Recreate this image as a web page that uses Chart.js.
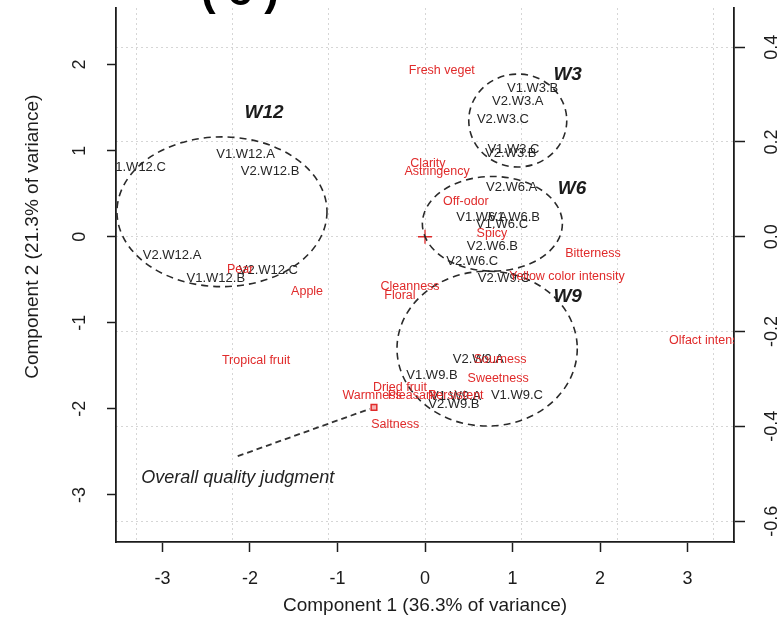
<!DOCTYPE html>
<html lang="en">
<head>
<meta charset="UTF-8">
<title>PCA biplot - wine samples and sensory attributes</title>
<script src="https://cdn.jsdelivr.net/npm/chart.js@4.4.1/dist/chart.umd.min.js"></script>
<style>
  html, body { margin: 0; padding: 0; background: #fff; }
  #wrap { width: 780px; height: 620px; position: relative; }
</style>
</head>
<body>
<div id="wrap"><canvas id="biplot"></canvas></div>
<script>
// sample scores (component 1 / component 2)
const sampleNames = ['V1.W12.C', 'V1.W12.A', 'V2.W12.B', 'V2.W12.A', 'V1.W12.B', 'V2.W12.C',
                     'V1.W3.B', 'V2.W3.A', 'V2.W3.C', 'V1.W3.C', 'V2.W3.B',
                     'V2.W6.A', 'V1.W6.A', 'V1.W6.B', 'V1.W6.C', 'V2.W6.B', 'V2.W6.C',
                     'V2.W9.C', 'V2.W9.A', 'V1.W9.B', 'V1.W9.A', 'V2.W9.B', 'V1.W9.C'];
const sampleX = [-3.30, -2.05, -1.77, -2.89, -2.39, -1.79,
                 1.23, 1.06, 0.89, 1.01, 0.98,
                 0.99, 0.65, 1.02, 0.88, 0.77, 0.54,
                 0.90, 0.61, 0.08, 0.35, 0.33, 1.05];
const sampleY = [0.81, 0.96, 0.76, -0.22, -0.49, -0.39,
                 1.72, 1.57, 1.36, 1.02, 0.97,
                 0.57, 0.23, 0.22, 0.14, -0.11, -0.29,
                 -0.49, -1.43, -1.61, -1.85, -1.95, -1.84];

// sensory attribute loadings (top / right axes)
const attrNames = ['Fresh veget', 'Clarity', 'Astringency', 'Off-odor', 'Spicy', 'Bitterness',
                   'Yellow color intensity', 'Cleanness', 'Floral', 'Apple', 'Pear', 'Tropical fruit',
                   'Olfact intensity', 'Sourness', 'Sweetness', 'Dried fruit', 'Warmness',
                   'Pleasant', 'Persistent', 'Saltness'];
const attrX = [0.035, 0.006, 0.025, 0.085, 0.139, 0.349,
               0.295, -0.031, -0.052, -0.245, -0.384, -0.351,
               0.592, 0.156, 0.152, -0.052, -0.110,
               -0.027, 0.064, -0.062];
const attrY = [0.351, 0.154, 0.137, 0.075, 0.006, -0.035,
               -0.085, -0.106, -0.125, -0.116, -0.069, -0.262,
               -0.220, -0.260, -0.299, -0.318, -0.336,
               -0.336, -0.336, -0.397];

// wine groups: ellipse centre and radii in score units
const groupNames = ['W12', 'W3', 'W6', 'W9'];
const groupX = [-2.32, 1.06, 0.77, 0.71];
const groupY = [0.29, 1.35, 0.15, -1.30];
const groupRx = [1.20, 0.56, 0.80, 1.03];
const groupRy = [0.87, 0.54, 0.55, 0.90];
const groupLabelX = [-1.84, 1.63, 1.68, 1.63];
const groupLabelY = [1.44, 1.88, 0.56, -0.70];

// overall quality judgment: pointer line (scores) and marker (loading)
const oqjLineX = [-2.14, -0.63];
const oqjLineY = [-2.55, -2.00];
const oqjMarkX = [-0.106];
const oqjMarkY = [-0.360];
const oqjTextAt = [-2.14, -2.80];

const xTicks = [-3, -2, -1, 0, 1, 2, 3];
const yTicks = [-3, -2, -1, 0, 1, 2];
const x2Ticks = [-0.6, -0.4, -0.2, 0, 0.2, 0.4, 0.6];
const y2Ticks = [-0.6, -0.4, -0.2, 0, 0.2, 0.4];

const RED = '#e02b2b';
const INK = '#1c1c1c';
const FONT = '"Liberation Sans", Arial, sans-serif';

const toPts = (xs, ys) => xs.map((v, i) => ({ x: v, y: ys[i] }));
const setTicks = list => scale => { scale.ticks = list.map(v => ({ value: v })); };

const textPlugin = {
    id: 'biplotText',
    afterDatasetsDraw(chart) {
        const { ctx, chartArea: a, scales: { x, y, x2, y2 } } = chart;
        ctx.save();
        ctx.beginPath();
        ctx.rect(a.left, a.top, a.right - a.left, a.bottom - a.top);
        ctx.clip();

        // dashed group ellipses
        ctx.strokeStyle = '#2a2a2a';
        ctx.lineWidth = 1.6;
        ctx.setLineDash([7, 5]);
        groupX.forEach((gx, i) => {
            const cx = x.getPixelForValue(gx), cy = y.getPixelForValue(groupY[i]);
            const rx = Math.abs(x.getPixelForValue(gx + groupRx[i]) - cx);
            const ry = Math.abs(y.getPixelForValue(groupY[i] + groupRy[i]) - cy);
            ctx.beginPath();
            ctx.ellipse(cx, cy, rx, ry, 0, 0, Math.PI * 2);
            ctx.stroke();
        });
        ctx.setLineDash([]);

        ctx.textAlign = 'center';
        ctx.textBaseline = 'middle';

        // sample labels
        ctx.fillStyle = '#262626';
        ctx.font = '13px ' + FONT;
        sampleNames.forEach((n, i) => {
            ctx.fillText(n, x.getPixelForValue(sampleX[i]), y.getPixelForValue(sampleY[i]));
        });

        // attribute labels
        ctx.fillStyle = RED;
        ctx.font = '12.5px ' + FONT;
        attrNames.forEach((n, i) => {
            ctx.fillText(n, x2.getPixelForValue(attrX[i]), y2.getPixelForValue(attrY[i]));
        });

        // group names
        ctx.fillStyle = INK;
        ctx.font = 'italic bold 19px ' + FONT;
        groupNames.forEach((n, i) => {
            ctx.fillText(n, x.getPixelForValue(groupLabelX[i]), y.getPixelForValue(groupLabelY[i]));
        });

        ctx.font = 'italic 18px ' + FONT;
        ctx.fillStyle = '#222';
        ctx.fillText('Overall quality judgment', x.getPixelForValue(oqjTextAt[0]), y.getPixelForValue(oqjTextAt[1]));
        ctx.restore();
    },
    afterDraw(chart) {
        const { ctx, chartArea: a, scales: { x, y, y2 } } = chart;
        ctx.save();
        ctx.fillStyle = INK;
        ctx.textAlign = 'center';
        ctx.textBaseline = 'middle';
        ctx.font = '18px ' + FONT;
        x.ticks.forEach(t => ctx.fillText(String(t.value), x.getPixelForValue(t.value), a.bottom + 37));
        y.ticks.forEach(t => {
            ctx.save();
            ctx.translate(a.left - 36, y.getPixelForValue(t.value));
            ctx.rotate(-Math.PI / 2);
            ctx.fillText(String(t.value), 0, 0);
            ctx.restore();
        });
        y2.ticks.forEach(t => {
            ctx.save();
            ctx.translate(a.right + 38, y2.getPixelForValue(t.value));
            ctx.rotate(-Math.PI / 2);
            ctx.fillText(t.value.toFixed(1), 0, 0);
            ctx.restore();
        });

        // axis titles
        ctx.font = '19px ' + FONT;
        ctx.fillText('Component 1 (36.3% of variance)', (a.left + a.right) / 2, a.bottom + 64);
        ctx.save();
        ctx.translate(a.left - 83, y.getPixelForValue(0));
        ctx.rotate(-Math.PI / 2);
        ctx.fillText('Component 2 (21.3% of variance)', 0, 0);
        ctx.restore();

        // panel tag, cut off at the top edge as in the source figure
        ctx.font = 'bold 44px ' + FONT;
        ctx.textBaseline = 'alphabetic';
        ctx.fillStyle = '#000';
        ctx.letterSpacing = '12px';
        ctx.fillText('(c)', 246, 5);
        ctx.restore();
    }
};

new Chart(document.getElementById('biplot'), {
    type: 'scatter',
    data: {
        datasets: [
            {
                label: 'Overall quality pointer',
                data: toPts(oqjLineX, oqjLineY),
                showLine: true,
                borderColor: '#333',
                borderWidth: 1.8,
                borderDash: [6, 4],
                pointRadius: 0,
                xAxisID: 'x',
                yAxisID: 'y'
            },
            {
                label: 'Overall quality judgment',
                data: toPts(oqjMarkX, oqjMarkY),
                pointStyle: 'rect',
                pointRadius: 4,
                borderColor: RED,
                borderWidth: 1.5,
                backgroundColor: '#f5b3b3',
                xAxisID: 'x2',
                yAxisID: 'y2'
            },
            {
                label: 'Origin',
                data: [{ x: 0, y: 0 }],
                pointStyle: 'cross',
                pointRadius: 7,
                borderColor: RED,
                borderWidth: 1.3,
                xAxisID: 'x2',
                yAxisID: 'y2'
            },
            {
                label: 'Samples',
                data: toPts(sampleX, sampleY),
                pointRadius: 0,
                xAxisID: 'x',
                yAxisID: 'y'
            },
            {
                label: 'Attributes',
                data: toPts(attrX, attrY),
                pointRadius: 0,
                xAxisID: 'x2',
                yAxisID: 'y2'
            }
        ]
    },
    options: {
        responsive: true,
        maintainAspectRatio: false,
        animation: false,
        layout: { padding: 0 },
        plugins: {
            legend: { display: false },
            tooltip: { enabled: false }
        },
        scales: {
            x: {
                type: 'linear', position: 'bottom', min: -3.531, max: 3.531,
                afterBuildTicks: setTicks(xTicks),
                afterFit: s => { s.height = 78; },
                grid: { drawOnChartArea: false, tickLength: 10, tickColor: INK, tickWidth: 1.5 },
                border: { color: INK, width: 1.8 },
                ticks: { display: false }
            },
            y: {
                type: 'linear', position: 'left', min: -3.547, max: 2.654,
                afterBuildTicks: setTicks(yTicks),
                afterFit: s => { s.width = 116; },
                grid: { drawOnChartArea: false, tickLength: 9, tickColor: INK, tickWidth: 1.5 },
                border: { color: INK, width: 1.8 },
                ticks: { display: false }
            },
            x2: {
                type: 'linear', position: 'top', min: -0.642, max: 0.642,
                afterBuildTicks: setTicks(x2Ticks),
                afterFit: s => { s.height = 0; },
                grid: { color: '#d6d6d6', lineWidth: 1, drawTicks: false },
                border: { display: false, dash: [2, 3] },
                ticks: { display: false }
            },
            y2: {
                type: 'linear', position: 'right', min: -0.644, max: 0.482,
                afterBuildTicks: setTicks(y2Ticks),
                afterFit: s => { s.width = 46; },
                grid: { color: '#d6d6d6', lineWidth: 1, tickLength: 11, tickColor: INK, tickWidth: 1.5 },
                border: { color: INK, width: 1.8, dash: [2, 3] },
                ticks: { display: false }
            }
        }
    },
    plugins: [textPlugin]
});
</script>
</body>
</html>
